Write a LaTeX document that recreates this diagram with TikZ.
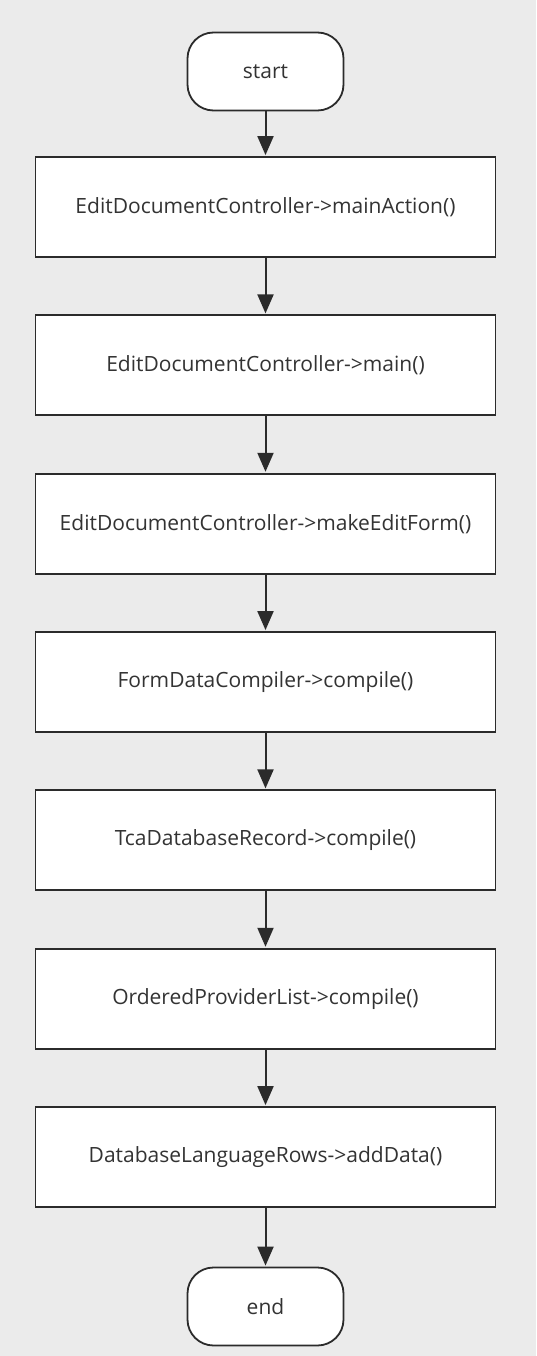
\documentclass[tikz,border=0pt]{standalone}
\usepackage{fontspec}
\setmainfont{Open Sans}
\usetikzlibrary{arrows.meta}
\definecolor{bg}{HTML}{EBEBEB}
\definecolor{ink}{HTML}{2B2B2B}
\definecolor{txt}{HTML}{333333}
\tikzset{
  procbox/.style={draw=ink, line width=1.8pt, fill=white, minimum width=460pt, minimum height=100pt, inner sep=0pt, font=\fontsize{21}{25}\selectfont, text=txt},
  termbox/.style={draw=ink, line width=1.8pt, fill=white, rounded corners=26pt, minimum width=156pt, minimum height=78pt, inner sep=0pt, font=\fontsize{21}{25}\selectfont, text=txt},
  flow/.style={draw=ink, line width=2pt, -{Triangle[length=19pt,width=16pt]}, shorten >=1pt}
}
\begin{document}
\begin{tikzpicture}[x=1pt,y=-1pt]
\fill[bg] (0,0) rectangle (536,1356);
\useasboundingbox (0,0) rectangle (536,1356);
\node[termbox] (s) at (265.5,71.5) {start};
\node[procbox] (b1) at (265.5,207) {EditDocumentController->mainAction()};
\node[procbox] (b2) at (265.5,365.3) {EditDocumentController->main()};
\node[procbox] (b3) at (265.5,523.7) {EditDocumentController->makeEditForm()};
\node[procbox] (b4) at (265.5,682) {FormDataCompiler->compile()};
\node[procbox] (b5) at (265.5,840.3) {TcaDatabaseRecord->compile()};
\node[procbox] (b6) at (265.5,998.7) {OrderedProviderList->compile()};
\node[procbox] (b7) at (265.5,1157) {DatabaseLanguageRows->addData()};
\node[termbox] (e) at (265.5,1306.5) {end};
\draw[flow] (s) -- (b1);
\draw[flow] (b1) -- (b2);
\draw[flow] (b2) -- (b3);
\draw[flow] (b3) -- (b4);
\draw[flow] (b4) -- (b5);
\draw[flow] (b5) -- (b6);
\draw[flow] (b6) -- (b7);
\draw[flow] (b7) -- (e);
\end{tikzpicture}
\end{document}
